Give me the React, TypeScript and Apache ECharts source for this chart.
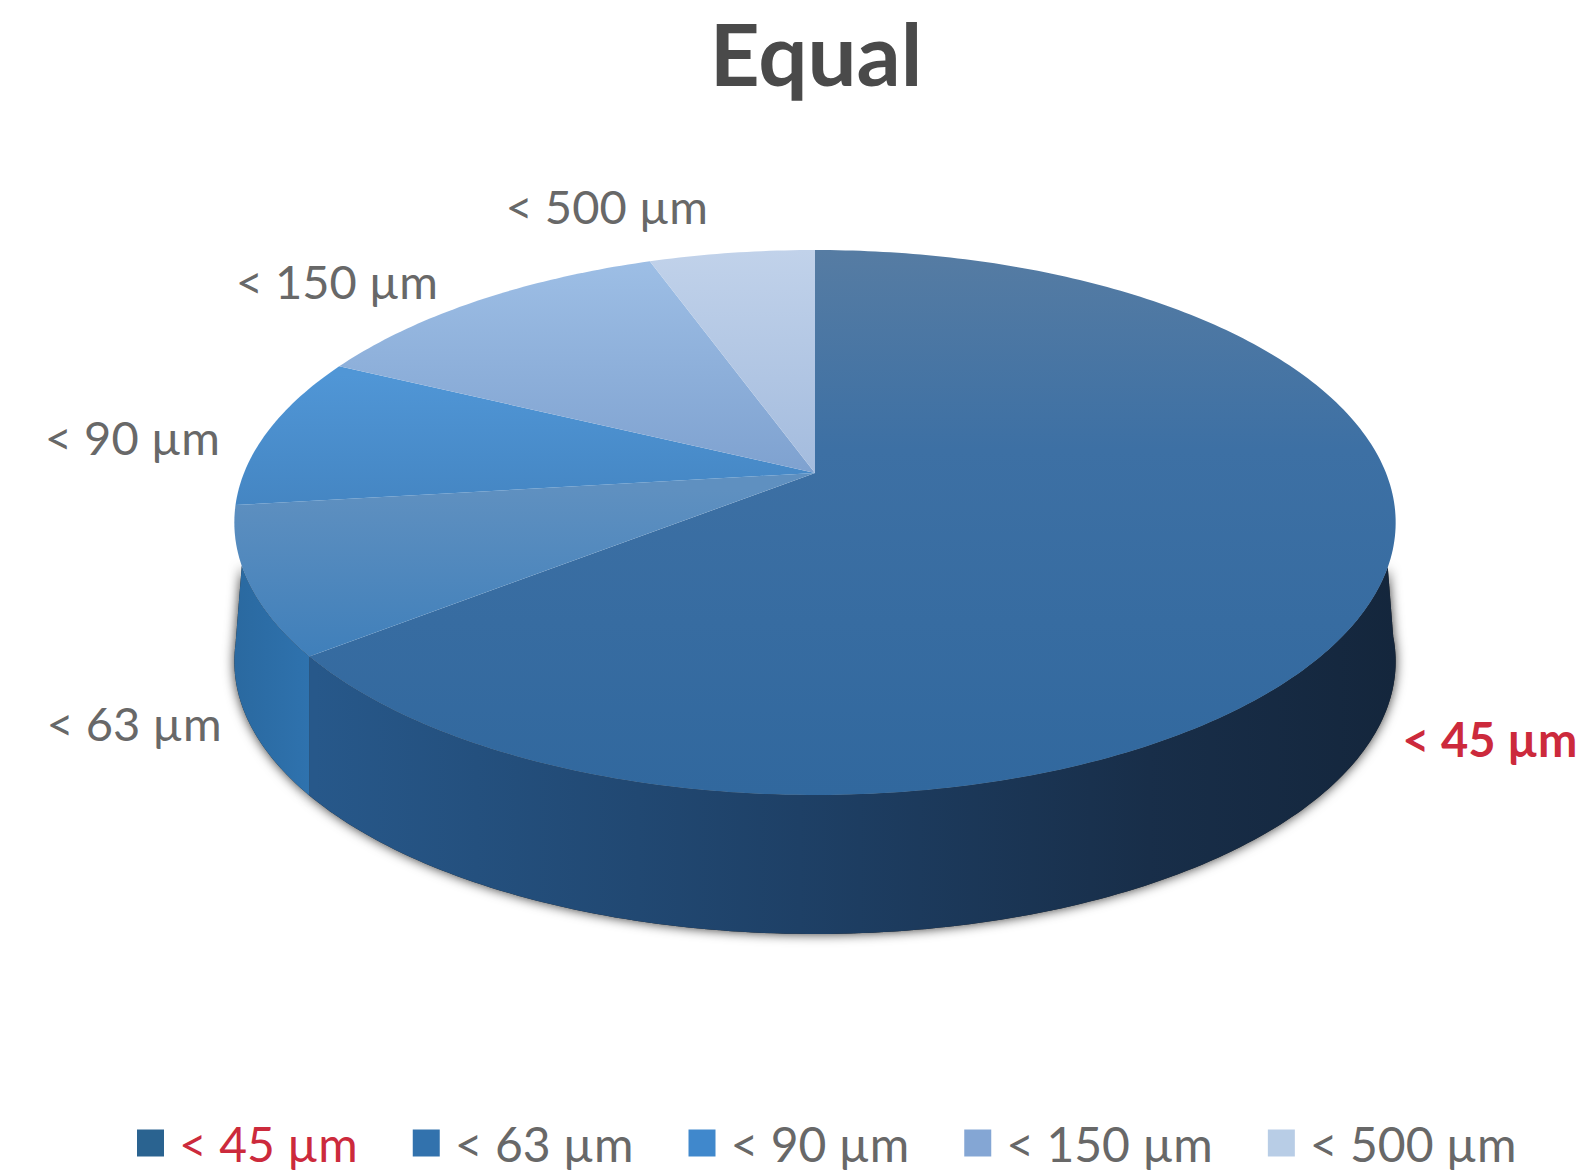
import React, { useEffect, useRef } from "react";
import * as echarts from "echarts";

// Mass share of each sieve fraction, in percent.
const categories = ["< 45 µm", "< 63 µm", "< 90 µm", "< 150 µm", "< 500 µm"];
const shares = [64.4, 8.7, 9.1, 12.3, 5.5];

const FONT = "Lato";
const TEXT_GREY = "#686868";
const TEXT_RED = "#cc2a3c";

// Perspective disc: hub on screen, half-axes and tilt of the projected circle.
const HUB_X = 815;
const HUB_Y = 473;
const AXIS_X = 571;
const AXIS_Y = 263.5;
const TILT = 0.1817;
const WALL = 139;
// Rim positions where the wall leaves the top face and where its lower edge starts.
const WALL_EMERGES = 0.33;
const WALL_FOOT = 0.08;

const legendColors = ["#2a6390", "#3272ad", "#4088cc", "#84a6d4", "#b8cde6"];

// Top-face gradient stops per slice, from the rear of the disc to the front.
const topStops = [
  [[250, "#567ca3"], [450, "#3d70a4"], [795, "#31689e"]],
  [[490, "#5f90c0"], [660, "#3f7fba"]],
  [[375, "#5096d6"], [510, "#4485c2"]],
  [[262, "#9dbee5"], [470, "#7fa2d0"]],
  [[250, "#c1d2ea"], [470, "#a4bcde"]],
];
const wallStops = [
  [[315, "#27588a"], [800, "#1e4066"], [1150, "#182e49"], [1398, "#14263c"]],
  [[235, "#2a69a0"], [315, "#2f73af"]],
];
const labelOffsets = [[117, 141], [-114, 142], [-136, 6], [-142, -19], [-125, -47]];

const project = (percent: number) => {
  const a = (percent / 100) * Math.PI * 2;
  const u = Math.sin(a);
  const v = -Math.cos(a);
  const w = 1 - TILT * v;
  return { x: HUB_X + (AXIS_X * u) / w, y: HUB_Y + (AXIS_Y * v) / w, v };
};

const arc = (from: number, to: number) => {
  const steps = Math.max(2, Math.ceil((to - from) * 4));
  const out: { x: number; y: number; v: number }[] = [];
  for (let i = 0; i <= steps; i++) out.push(project(from + ((to - from) * i) / steps));
  return out;
};

const gradient = (stops: any[], horizontal: boolean) => {
  const lo = stops[0][0];
  const hi = stops[stops.length - 1][0];
  const list = stops.map(([p, color]) => ({ offset: (p - lo) / (hi - lo), color }));
  return horizontal
    ? new echarts.graphic.LinearGradient(lo, 0, hi, 0, list, true)
    : new echarts.graphic.LinearGradient(0, lo, 0, hi, list, true);
};

const makeRenderItem = (index: number) => (_params: any, api: any) => {
  const from = api.value(0);
  const to = api.value(1);
  const rim = arc(from, to);
  const children: any[] = [];

  // Side wall, with a soft dark contact edge drawn as a separate backing shape.
  const upper = rim.filter((p) => p.v >= WALL_EMERGES);
  const lower = rim.filter((p) => p.v >= WALL_FOOT);
  if (upper.length > 1 && wallStops[index]) {
    const points = upper.map((p) => [p.x, p.y]);
    for (let i = lower.length - 1; i >= 0; i--) points.push([lower[i].x, lower[i].y + WALL]);
    children.push({
      type: "polygon",
      z2: 0,
      shape: { points },
      style: { fill: "#222222", shadowBlur: 12, shadowColor: "rgba(0,0,0,0.8)" },
    });
    children.push({
      type: "polygon",
      z2: 1,
      shape: { points },
      style: { fill: gradient(wallStops[index], true) },
    });
  }

  children.push({
    type: "polygon",
    z2: 5 + index,
    shape: { points: [[HUB_X, HUB_Y], ...rim.map((p) => [p.x, p.y])] },
    style: { fill: gradient(topStops[index], false) },
  });

  const mid = project((from + to) / 2);
  children.push({
    type: "text",
    z2: 20,
    style: {
      text: categories[index],
      x: mid.x + labelOffsets[index][0],
      y: mid.y + labelOffsets[index][1],
      align: "center",
      verticalAlign: "middle",
      fontFamily: FONT,
      fontSize: 47,
      fontWeight: index === 0 ? "bold" : "normal",
      fill: index === 0 ? TEXT_RED : TEXT_GREY,
    },
  });
  return { type: "group", children };
};

let running = 0;
const bounds = shares.map((s) => {
  const pair = [running, running + s];
  running += s;
  return pair;
});

export default function App() {
  const ref = useRef<HTMLDivElement>(null);

  useEffect(() => {
    const chart = echarts.init(ref.current!, undefined, { renderer: "svg" });
    chart.setOption({
      animation: false,
      backgroundColor: "#ffffff",
      title: {
        text: "Equal",
        left: 816,
        top: 9,
        padding: 0,
        textAlign: "center",
        textStyle: { fontFamily: FONT, fontSize: 87, fontWeight: "bold", color: "#4a4a4a" },
      },
      legend: {
        left: 132,
        top: 1114,
        icon: "rect",
        itemWidth: 27,
        itemHeight: 27,
        itemGap: 55,
        textStyle: { fontFamily: FONT, fontSize: 48, color: TEXT_GREY, padding: [0, 0, 8, 10] },
        data: categories.map((name, i) => ({
          name,
          textStyle: { color: i === 0 ? TEXT_RED : TEXT_GREY },
        })),
      },
      series: categories.map((name, i) => ({
        type: "custom",
        name,
        coordinateSystem: "none",
        silent: true,
        itemStyle: { color: legendColors[i] },
        data: [bounds[i]],
        renderItem: makeRenderItem(i),
      })),
    });
    return () => chart.dispose();
  }, []);

  return <div ref={ref} style={{ position: "absolute", left: 0, top: 0, width: 1591, height: 1175 }} />;
}
